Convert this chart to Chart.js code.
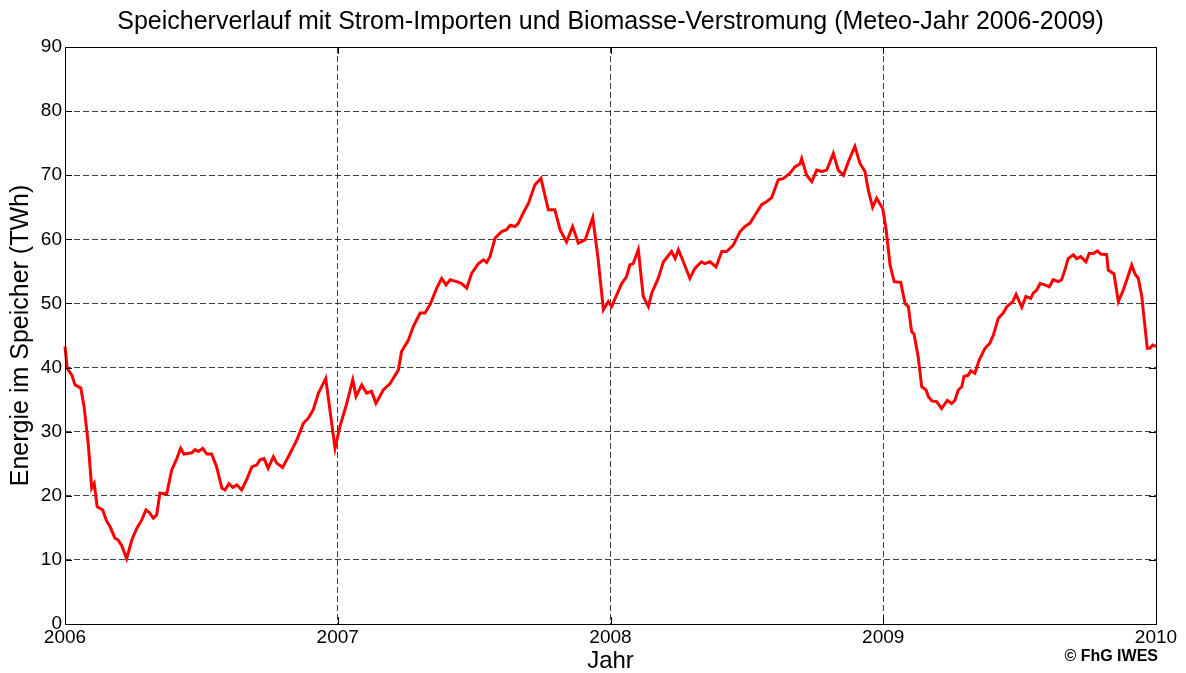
<!DOCTYPE html>
<html>
<head>
<meta charset="utf-8">
<script src="https://cdn.jsdelivr.net/npm/chart.js@4"></script>
<style>
  html, body { margin: 0; padding: 0; background: #fff; }
  .chart-box { width: 1186px; height: 673px; position: relative; }
</style>
</head>
<body>
<div class="chart-box"><canvas id="storageChart"></canvas></div>
<script>
// 데이터
const TITLE = 'Speicherverlauf mit Strom-Importen und Biomasse-Verstromung (Meteo-Jahr 2006-2009)';
const X_TICKS = [2006, 2007, 2008, 2009, 2010];
const Y_TICKS = [0, 10, 20, 30, 40, 50, 60, 70, 80, 90];

// Zeitpunkt (Jahr, dezimal)
const years = [
  2006.000, 2006.008, 2006.025, 2006.037, 2006.058, 2006.070, 2006.085, 2006.098, 2006.107, 2006.118,
  2006.138, 2006.153, 2006.165, 2006.183, 2006.195, 2006.208, 2006.226, 2006.245, 2006.263, 2006.281,
  2006.297, 2006.309, 2006.324, 2006.336, 2006.348, 2006.373, 2006.391, 2006.410, 2006.424, 2006.436,
  2006.465, 2006.477, 2006.489, 2006.505, 2006.520, 2006.538, 2006.556, 2006.575, 2006.587, 2006.601,
  2006.615, 2006.630, 2006.648, 2006.666, 2006.685, 2006.703, 2006.715, 2006.730, 2006.745, 2006.764,
  2006.776, 2006.798, 2006.825, 2006.850, 2006.874, 2006.892, 2006.910, 2006.929, 2006.956, 2006.990,
  2007.008, 2007.033, 2007.055, 2007.067, 2007.088, 2007.106, 2007.124, 2007.140, 2007.167, 2007.192,
  2007.222, 2007.234, 2007.259, 2007.277, 2007.302, 2007.320, 2007.338, 2007.363, 2007.381, 2007.397,
  2007.412, 2007.436, 2007.454, 2007.473, 2007.491, 2007.515, 2007.534, 2007.546, 2007.558, 2007.577,
  2007.601, 2007.619, 2007.632, 2007.650, 2007.662, 2007.680, 2007.699, 2007.723, 2007.745, 2007.772,
  2007.796, 2007.815, 2007.839, 2007.861, 2007.882, 2007.907, 2007.935, 2007.955, 2007.974, 2007.992,
  2008.004, 2008.041, 2008.059, 2008.071, 2008.083, 2008.102, 2008.120, 2008.139, 2008.151, 2008.175,
  2008.194, 2008.224, 2008.237, 2008.249, 2008.267, 2008.291, 2008.310, 2008.334, 2008.346, 2008.365,
  2008.387, 2008.408, 2008.426, 2008.450, 2008.475, 2008.493, 2008.511, 2008.530, 2008.554, 2008.573,
  2008.591, 2008.615, 2008.634, 2008.658, 2008.676, 2008.695, 2008.701, 2008.719, 2008.738, 2008.756,
  2008.774, 2008.793, 2008.817, 2008.835, 2008.854, 2008.872, 2008.896, 2008.915, 2008.933, 2008.945,
  2008.961, 2008.976, 2008.998, 2009.010, 2009.025, 2009.040, 2009.064, 2009.080, 2009.092, 2009.104,
  2009.113, 2009.128, 2009.141, 2009.157, 2009.165, 2009.178, 2009.196, 2009.214, 2009.235, 2009.251,
  2009.263, 2009.275, 2009.288, 2009.296, 2009.312, 2009.321, 2009.336, 2009.352, 2009.373, 2009.391,
  2009.404, 2009.422, 2009.440, 2009.453, 2009.475, 2009.487, 2009.508, 2009.523, 2009.541, 2009.550,
  2009.563, 2009.575, 2009.593, 2009.609, 2009.623, 2009.642, 2009.654, 2009.666, 2009.678, 2009.697,
  2009.709, 2009.724, 2009.743, 2009.755, 2009.770, 2009.785, 2009.797, 2009.819, 2009.825, 2009.846,
  2009.862, 2009.880, 2009.893, 2009.911, 2009.923, 2009.935, 2009.948, 2009.953, 2009.968, 2009.978,
  2009.988, 2010.000
];

// Energie im Speicher (TWh)
const storage = [
  43.3, 39.9, 38.8, 37.3, 36.8, 33.9, 28.2, 21.2, 21.9, 18.3,
  17.8, 16.0, 15.2, 13.4, 13.1, 12.2, 10.2, 13.1, 14.9, 16.2,
  17.8, 17.4, 16.5, 17.0, 20.4, 20.3, 24.0, 25.8, 27.4, 26.5,
  26.7, 27.2, 26.9, 27.4, 26.5, 26.5, 24.5, 21.2, 20.9, 21.9,
  21.3, 21.7, 20.9, 22.5, 24.5, 24.8, 25.6, 25.8, 24.3, 26.1,
  25.1, 24.4, 26.6, 28.7, 31.3, 32.1, 33.4, 36.0, 38.3, 27.4,
  30.8, 34.4, 38.1, 35.5, 37.3, 36.0, 36.3, 34.4, 36.5, 37.5,
  39.6, 42.5, 44.3, 46.4, 48.5, 48.5, 49.8, 52.4, 53.9, 52.9,
  53.7, 53.4, 53.1, 52.4, 54.7, 56.2, 56.8, 56.4, 57.3, 60.2,
  61.2, 61.5, 62.2, 62.0, 62.5, 64.1, 65.6, 68.5, 69.5, 64.6,
  64.6, 61.5, 59.6, 62.0, 59.4, 59.9, 63.4, 56.8, 49.0, 50.3,
  49.5, 53.1, 54.2, 56.0, 56.2, 58.4, 51.1, 49.5, 51.6, 53.9,
  56.5, 58.1, 57.0, 58.4, 56.5, 53.9, 55.5, 56.5, 56.2, 56.5,
  55.7, 58.1, 58.1, 59.1, 61.2, 62.0, 62.5, 63.8, 65.4, 65.9,
  66.5, 69.3, 69.5, 70.3, 71.3, 71.8, 72.6, 70.0, 69.0, 70.8,
  70.6, 70.8, 73.4, 70.8, 70.0, 72.1, 74.5, 71.8, 70.6, 67.7,
  65.0, 66.4, 64.8, 61.7, 56.0, 53.4, 53.3, 50.0, 49.5, 45.6,
  45.2, 41.7, 37.0, 36.5, 35.5, 34.8, 34.7, 33.6, 34.9, 34.4,
  34.9, 36.5, 37.0, 38.6, 38.8, 39.5, 39.1, 41.2, 43.0, 43.8,
  45.1, 47.7, 48.5, 49.5, 50.3, 51.4, 49.4, 51.1, 50.8, 51.6,
  52.1, 53.1, 52.9, 52.6, 53.7, 53.4, 53.7, 55.2, 57.0, 57.6,
  57.0, 57.3, 56.5, 57.8, 57.8, 58.2, 57.7, 57.6, 55.2, 54.6,
  50.3, 52.1, 53.7, 56.0, 54.6, 53.9, 51.1, 49.0, 43.0, 43.0,
  43.5, 43.3
];

const FONT = 'Liberation Sans, Arial, Helvetica, sans-serif';
const RED  = '#ff0000';
const GRID = 'rgba(0,0,0,0.75)';

// 제목 + 외곽 박스 + 안쪽 눈금 + 저작권 표시
const frame = {
  id: 'frame',
  afterDraw(chart){
    const {ctx, chartArea:a, scales:{x, y}} = chart;
    ctx.save();
    ctx.strokeStyle = '#000';
    ctx.lineWidth = 1;
    ctx.setLineDash([]);
    ctx.beginPath();
    X_TICKS.forEach(v => {
      const px = Math.round(x.getPixelForValue(v)) + 0.5;
      ctx.moveTo(px, a.bottom); ctx.lineTo(px, a.bottom - 7);
      ctx.moveTo(px, a.top);    ctx.lineTo(px, a.top + 7);
    });
    Y_TICKS.forEach(v => {
      const py = Math.round(y.getPixelForValue(v)) + 0.5;
      ctx.moveTo(a.left, py);  ctx.lineTo(a.left + 7, py);
      ctx.moveTo(a.right, py); ctx.lineTo(a.right - 7, py);
    });
    ctx.stroke();
    ctx.strokeRect(Math.round(a.left) + 0.5, Math.round(a.top) + 0.5,
                   Math.round(a.right - a.left), Math.round(a.bottom - a.top));

    ctx.fillStyle = '#000';
    ctx.textBaseline = 'middle';
    // 제목은 플롯 영역 가운데 정렬 (MATLAB 스타일)
    ctx.font = '25px ' + FONT;
    ctx.textAlign = 'center';
    ctx.fillText(TITLE, (a.left + a.right) / 2, 22);

    ctx.font = 'bold 16px ' + FONT;
    ctx.textAlign = 'right';
    ctx.fillText('© FhG IWES', 1158, 657);
    ctx.restore();
  }
};

new Chart(document.getElementById('storageChart'), {
  type: 'line',
  data: {
    datasets: [{
      data: years.map((t, i) => ({ x: t, y: storage[i] })),
      borderColor: RED,
      borderWidth: 3,
      pointRadius: 0,
      tension: 0,
      clip: false
    }]
  },
  options: {
    responsive: true,
    maintainAspectRatio: false,
    animation: false,
    devicePixelRatio: 1,
    layout: { padding: { left: 0, right: 30, top: 47, bottom: 0 } },
    plugins: {
      legend: { display: false },
      tooltip: { enabled: false },
      title: { display: false }
    },
    scales: {
      x: {
        type: 'linear',
        min: 2006, max: 2010,
        afterFit: s => { s.height = 49; },
        afterBuildTicks: s => { s.ticks = X_TICKS.map(v => ({ value: v })); },
        ticks: {
          color: '#000', padding: 2, maxRotation: 0,
          font: { family: FONT, size: 19 },
          callback: v => String(v)
        },
        grid: { color: GRID, lineWidth: 1, drawTicks: false },
        border: { display: false, dash: [6, 3] },
        title: {
          display: true, text: 'Jahr', color: '#000',
          font: { family: FONT, size: 24, lineHeight: 1 },
          padding: { top: 0, bottom: 0 }
        }
      },
      y: {
        min: 0, max: 90,
        afterFit: s => { s.width = 65; },
        afterBuildTicks: s => { s.ticks = Y_TICKS.map(v => ({ value: v })); },
        ticks: {
          color: '#000', padding: 3,
          font: { family: FONT, size: 19 }
        },
        grid: { color: GRID, lineWidth: 1, drawTicks: false },
        border: { display: false, dash: [6, 3] },
        title: {
          display: true, text: 'Energie im Speicher (TWh)', color: '#000',
          font: { family: FONT, size: 25, lineHeight: 1 },
          padding: { top: 9, bottom: 0 }
        }
      }
    }
  },
  plugins: [frame]
});
</script>
</body>
</html>
